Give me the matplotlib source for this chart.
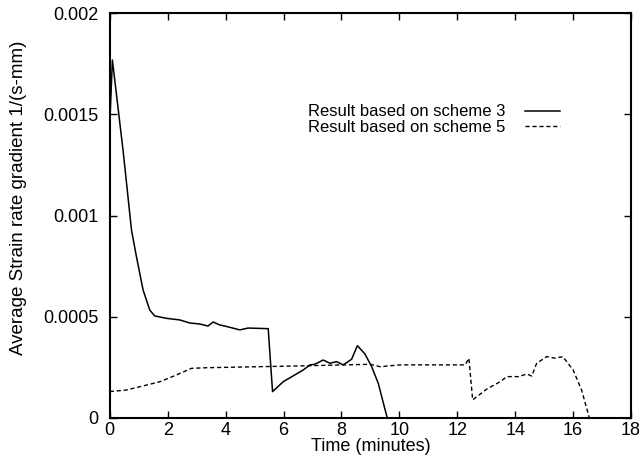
import matplotlib
matplotlib.use('Agg')

import numpy as np
import matplotlib.pyplot as plt

plt.rcParams['font.family'] = ['Liberation Sans', 'DejaVu Sans']

# scheme 3 result
t3 = [0.0, 0.09, 0.46, 0.75, 0.92, 1.15, 1.38, 1.55, 1.96, 2.42, 2.76, 3.11, 3.39,
      3.57, 3.80, 3.97, 4.49, 4.78, 5.47, 5.62, 5.99, 6.68, 6.91, 7.08, 7.37, 7.60,
      7.83, 8.06, 8.35, 8.55, 8.81, 9.04, 9.27, 9.58, 18.0]
g3 = [0.00145, 0.001768, 0.00132, 0.000928, 0.000797, 0.000632, 0.000533, 0.000504,
      0.000492, 0.000484, 0.000469, 0.000464, 0.000454, 0.000474, 0.000459, 0.000454,
      0.000435, 0.000444, 0.000441, 0.00013, 0.000179, 0.000237, 0.000262, 0.000265,
      0.000286, 0.00027, 0.000278, 0.000262, 0.00029, 0.000357, 0.000316, 0.000254,
      0.000171, 0.0, 0.0]

# scheme 5 result
t5 = [0.0, 0.58, 1.15, 1.73, 2.30, 2.82, 3.34, 6.91, 8.99, 9.33, 10.02, 11.75, 12.27,
      12.40, 12.53, 13.01, 13.48, 13.71, 14.11, 14.40, 14.57, 14.74, 15.09, 15.38,
      15.64, 16.00, 16.29, 16.56, 18.0]
g5 = [0.00013, 0.000138, 0.000158, 0.000179, 0.000212, 0.000245, 0.000248, 0.000258,
      0.000265, 0.000253, 0.000262, 0.000262, 0.000262, 0.000295, 0.000089, 0.000142,
      0.000179, 0.000204, 0.000204, 0.000217, 0.000207, 0.00027, 0.000303, 0.000295,
      0.000303, 0.000237, 0.000138, 0.0, 0.0]

xticks = [0, 2, 4, 6, 8, 10, 12, 14, 16, 18]
yticks = [0, 0.0005, 0.001, 0.0015, 0.002]
ylabels = ['0', '0.0005', '0.001', '0.0015', '0.002']

fig = plt.figure(figsize=(6.42, 4.68), dpi=100)
ax = fig.add_axes([0.171, 0.107, 0.812, 0.865])

ax.plot(t3, g3, color='black', lw=1.1, label='Result based on scheme 3')
ax.plot(t5, g5, color='black', lw=1.0, ls=(0, (3, 2)), label='Result based on scheme 5')

ax.set_xlim(0, 18)
ax.set_ylim(0, 0.002)
ax.set_xticks(xticks)
ax.set_xticklabels([str(v) for v in xticks])
ax.set_yticks(yticks)
ax.set_yticklabels(ylabels)
ax.tick_params(direction='in', length=5, width=1, top=True, right=True,
               labelsize=13)
ax.tick_params(axis='y', pad=8)
ax.tick_params(axis='x', pad=3)
for s in ax.spines.values():
    s.set_linewidth(1.5)

ax.set_xlabel('Time (minutes)', fontsize=13, labelpad=-1)
ax.set_ylabel('Average Strain rate gradient 1/(s-mm)', fontsize=13.5)
ax.yaxis.set_label_coords(-0.158, 0.543)

ax.legend(loc='upper right', bbox_to_anchor=(0.88, 0.795), frameon=False,
          markerfirst=False, fontsize=12, handlelength=2.1, handletextpad=1.2,
          labelspacing=0.05, borderpad=0)

fig.savefig('out.png', dpi=100, facecolor='white')
